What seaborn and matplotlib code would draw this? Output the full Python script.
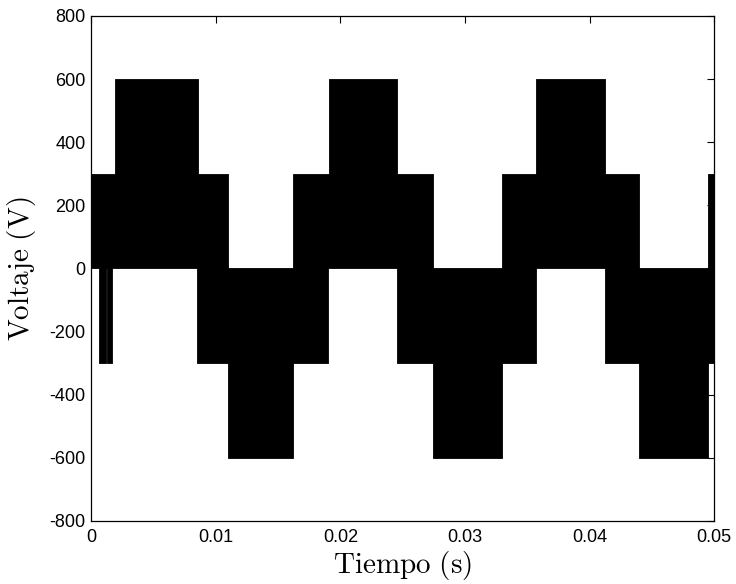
import numpy as np
import pandas as pd
import matplotlib
matplotlib.use("Agg")
import matplotlib.pyplot as plt
import seaborn as sns

# PWM envelope bands: start time (s), end time (s), low (V), high (V)
pos300_start = [0.0, 0.01621, 0.03294, 0.04947]
pos300_end = [0.01095, 0.02740, 0.04396, 0.05]
neg300_start = [0.00848, 0.02451, 0.04123]
neg300_end = [0.01902, 0.03567, 0.05]
pos600_start = [0.00190, 0.01908, 0.03573]
pos600_end = [0.00854, 0.02451, 0.04119]
neg600_start = [0.01095, 0.02740, 0.04396]
neg600_end = [0.01621, 0.03294, 0.04947]
spike_start = [0.00062, 0.00128]
spike_end = [0.00118, 0.00164]

xticks = [0, 0.01, 0.02, 0.03, 0.04, 0.05]
xtick_labels = ["0", "0.01", "0.02", "0.03", "0.04", "0.05"]
yticks = [-800, -600, -400, -200, 0, 200, 400, 600, 800]

rows = []
for s, e in zip(pos300_start, pos300_end):
    rows.append((s, e, 0, 300))
for s, e in zip(neg300_start, neg300_end):
    rows.append((s, e, -300, 0))
for s, e in zip(pos600_start, pos600_end):
    rows.append((s, e, 300, 600))
for s, e in zip(neg600_start, neg600_end):
    rows.append((s, e, -600, -300))
for s, e in zip(spike_start, spike_end):
    rows.append((s, e, -300, 0))
bands = pd.DataFrame(rows, columns=["start", "end", "low", "high"])

sns.set_theme(style="white")
plt.rcParams["font.family"] = ["Liberation Sans", "DejaVu Sans"]
plt.rcParams["mathtext.fontset"] = "cm"
plt.rcParams["axes.unicode_minus"] = False

fig = plt.figure(figsize=(7.36, 5.84), dpi=100)
ax = fig.add_axes([0.124, 0.108, 0.8465, 0.8647])

for _, r in bands.iterrows():
    ax.fill_between([r["start"], r["end"]], [r["low"], r["low"]], [r["high"], r["high"]],
                    color="black", linewidth=0.6, edgecolor="black")

ax.set_xlim(0, 0.05)
ax.set_ylim(-800, 800)
ax.set_xticks(xticks)
ax.set_xticklabels(xtick_labels)
ax.set_yticks(yticks)
ax.tick_params(direction="in", length=5, width=0.8, color="black",
               top=True, right=True, labelsize=13, labelcolor="black")
ax.tick_params(axis="x", pad=6)
ax.tick_params(axis="y", pad=4)
for sp in ax.spines.values():
    sp.set_color("black")
    sp.set_linewidth(0.9)

ax.set_xlabel(r"$\mathrm{Tiempo\ (s)}$", fontsize=21, color="black", labelpad=2)
ax.set_ylabel(r"$\mathrm{Voltaje\ (V)}$", fontsize=21, color="black", labelpad=8)

fig.savefig("out.png", dpi=100, facecolor="white")
